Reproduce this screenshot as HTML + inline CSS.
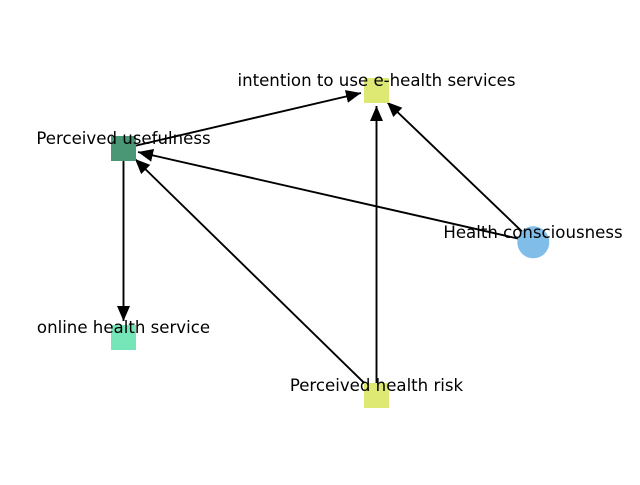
<!DOCTYPE html>
<html><head><meta charset="utf-8"><style>
html,body{margin:0;padding:0;background:#fff;}
svg text{font-family:"DejaVu Sans","Liberation Sans",sans-serif;font-size:16.6px;fill:#000;}
</style></head><body>
<svg width="640" height="480" viewBox="0 0 640 480" xmlns="http://www.w3.org/2000/svg">
<defs>
<marker id="a" markerUnits="userSpaceOnUse" markerWidth="16" markerHeight="14" refX="15" refY="6.5" orient="auto">
<path d="M0,0 L15,6.5 L0,13 Z" fill="#000"/>
</marker>
</defs>
<g stroke="#000" stroke-width="1.9" fill="none" marker-end="url(#a)">
<line x1="123.5" y1="148.5" x2="361" y2="93"/>
<line x1="533" y1="242" x2="387" y2="102"/>
<line x1="376.5" y1="395" x2="376.5" y2="106"/>
<line x1="533" y1="242" x2="138" y2="152"/>
<line x1="376.5" y1="395" x2="135" y2="159"/>
<line x1="123.5" y1="148.5" x2="123.5" y2="321"/>
</g>
<rect x="364" y="78" width="25" height="25" fill="#dde972"/>
<rect x="111" y="136" width="25" height="25" fill="#4a9776"/>
<rect x="111" y="325" width="25" height="25" fill="#76e6b8"/>
<rect x="364" y="383" width="25" height="25" fill="#dde972"/>
<circle cx="533.3" cy="242.3" r="16" fill="#80bde8"/>
<text x="376.5" y="86" text-anchor="middle">intention to use e-health services</text>
<text x="123.5" y="144" text-anchor="middle">Perceived usefulness</text>
<text x="123.5" y="333" text-anchor="middle">online health service</text>
<text x="376.5" y="391" text-anchor="middle">Perceived health risk</text>
<text x="533" y="238" text-anchor="middle">Health consciousness</text>
</svg>
</body></html>
